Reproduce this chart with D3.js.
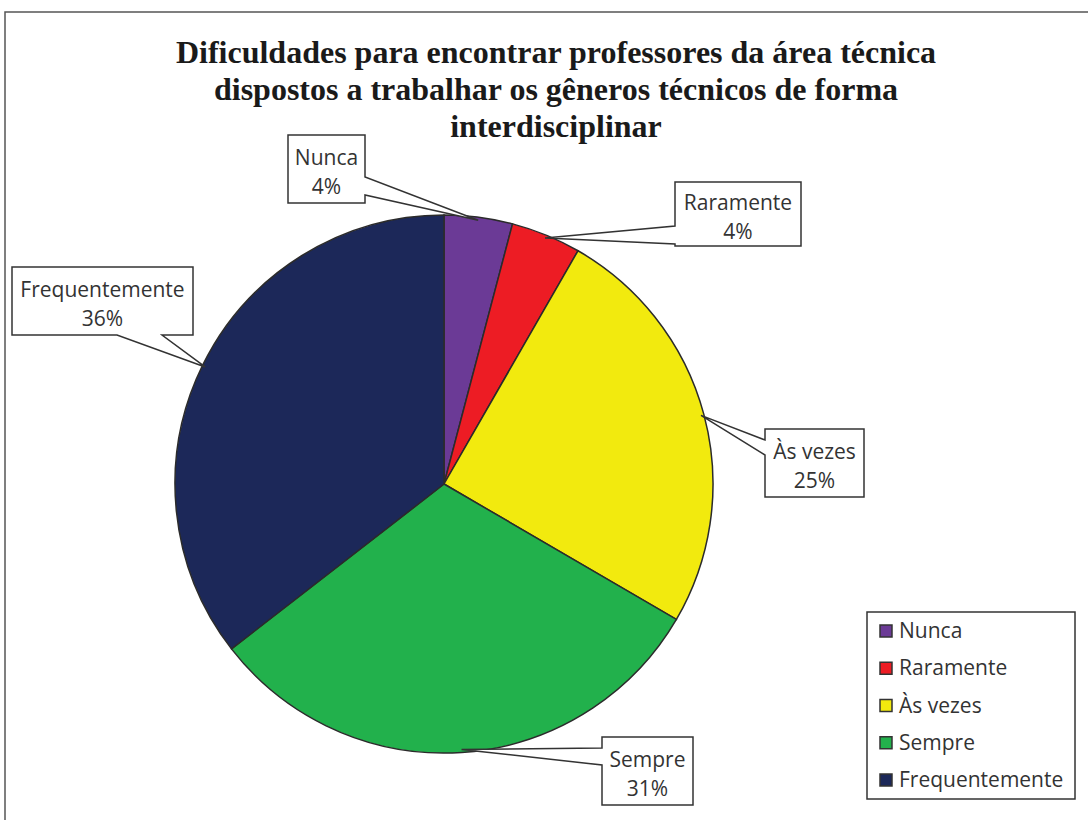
<!DOCTYPE html>
<html>
<head>
<meta charset="utf-8">
<title>Dificuldades - pizza</title>
<style>
  body { margin: 0; background: #fff; }
  svg { display: block; }
  .title text { font-family: "Liberation Serif", "Times New Roman", serif; font-weight: bold; font-size: 32px; fill: #1a1a1a; }
  .callout text, .legend text { font-family: "Open Sans", "Noto Sans", sans-serif; font-size: 21px; fill: #333; }
</style>
</head>
<body>
<script src="https://cdn.jsdelivr.net/npm/d3@7"></script>
<script>
// data
const categories = ["Nunca", "Raramente", "Às vezes", "Sempre", "Frequentemente"];
const values = [4.1, 4.2, 25.1, 31.1, 35.5];
const percentLabels = ["4%", "4%", "25%", "31%", "36%"];
const sliceColors = ["#6b3a96", "#ed1c24", "#f2ea0e", "#22b14c", "#1c2859"];
const titleLines = [
  "Dificuldades para encontrar professores da área técnica",
  "dispostos a trabalhar os gêneros técnicos de forma",
  "interdisciplinar"
];

const W = 1088, H = 820;
const cx = 444, cy = 484, radius = 269;

const svg = d3.select("body").append("svg")
  .attr("width", W)
  .attr("height", H);

// outer frame (only top and left visible)
svg.append("path")
  .attr("d", `M5,${H} L5,12 L${W},12`)
  .attr("fill", "none")
  .attr("stroke", "#555")
  .attr("stroke-width", 1.5);

// title
const title = svg.append("g").attr("class", "title");
title.selectAll("text")
  .data(titleLines)
  .join("text")
  .attr("x", 556)
  .attr("y", (d, i) => 63 + i * 37)
  .attr("text-anchor", "middle")
  .text(d => d);

const color = d3.scaleOrdinal().domain(categories).range(sliceColors);

const pie = d3.pie().sort(null).value(d => d.value);
const arcs = pie(categories.map((c, i) => ({ name: c, value: values[i], pct: percentLabels[i] })));
const arc = d3.arc().innerRadius(0).outerRadius(radius);
const tipArc = d3.arc().innerRadius(radius - 3).outerRadius(radius - 3);

const chart = svg.append("g").attr("transform", `translate(${cx},${cy})`);
chart.selectAll("path.slice")
  .data(arcs)
  .join("path")
  .attr("class", "slice")
  .attr("d", arc)
  .attr("fill", d => color(d.data.name))
  .attr("stroke", "#2b2b2b")
  .attr("stroke-width", 1.5);

// callout boxes: layout only (box + which side the pointer leaves from)
const boxes = [
  { x: 288, y: 135, w: 77, h: 68, side: "right", b1: 42, b2: 60 },
  { x: 675, y: 182, w: 126, h: 64, side: "left", b1: 44, b2: 62 },
  { x: 765, y: 429, w: 99, h: 68, side: "left", b1: 11, b2: 26 },
  { x: 602, y: 737, w: 91, h: 68, side: "left", b1: 11, b2: 28 },
  { x: 12, y: 267, w: 181, h: 68, side: "bottom", b1: 105, b2: 150 }
];

function calloutPath(b, tx, ty) {
  const x0 = b.x, y0 = b.y, x1 = b.x + b.w, y1 = b.y + b.h;
  const p = [[x0, y0], [x1, y0]];
  if (b.side === "right") p.push([x1, y0 + b.b1], [tx, ty], [x1, y0 + b.b2]);
  p.push([x1, y1]);
  if (b.side === "bottom") p.push([x0 + b.b2, y1], [tx, ty], [x0 + b.b1, y1]);
  p.push([x0, y1]);
  if (b.side === "left") p.push([x0, y0 + b.b2], [tx, ty], [x0, y0 + b.b1]);
  return "M" + p.map(q => q.join(",")).join("L") + "Z";
}

const callouts = svg.append("g").attr("class", "callout");
arcs.forEach((a, i) => {
  const b = boxes[i];
  const c = tipArc.centroid(a);
  const g = callouts.append("g");
  g.append("path")
    .attr("d", calloutPath(b, cx + c[0], cy + c[1]))
    .attr("fill", "#fff")
    .attr("stroke", "#333")
    .attr("stroke-width", 1.5)
    .attr("stroke-linejoin", "miter");
  g.append("text")
    .attr("x", b.x + b.w / 2)
    .attr("y", b.y + b.h / 2 - 4)
    .attr("text-anchor", "middle")
    .text(a.data.name);
  g.append("text")
    .attr("x", b.x + b.w / 2)
    .attr("y", b.y + b.h / 2 + 25)
    .attr("text-anchor", "middle")
    .text(a.data.pct);
});

// legend
const legend = svg.append("g").attr("class", "legend");
legend.append("rect")
  .attr("x", 867).attr("y", 612)
  .attr("width", 208).attr("height", 187)
  .attr("fill", "#fff")
  .attr("stroke", "#333")
  .attr("stroke-width", 1.5);

const rowY = d3.scalePoint().domain(categories).range([631, 780]);
const items = legend.selectAll("g.item")
  .data(categories)
  .join("g")
  .attr("class", "item")
  .attr("transform", d => `translate(0,${rowY(d)})`);
items.append("rect")
  .attr("x", 880).attr("y", -6)
  .attr("width", 12).attr("height", 12)
  .attr("fill", d => color(d))
  .attr("stroke", "#333")
  .attr("stroke-width", 1.5);
items.append("text")
  .attr("x", 899)
  .attr("y", 7)
  .text(d => d);
</script>
</body>
</html>
